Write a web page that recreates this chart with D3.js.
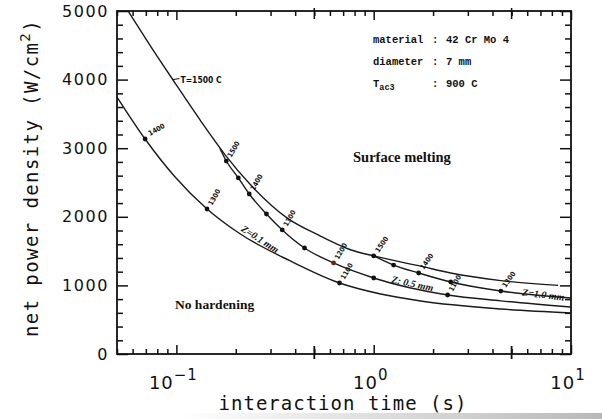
<!DOCTYPE html>
<html>
<head>
<meta charset="utf-8">
<script src="https://cdn.jsdelivr.net/npm/d3@7"></script>
<style>
  body { margin: 0; background: #fff; }
  svg text { fill: #111; }
</style>
</head>
<body>
<div id="chart"></div>
<script>
const width = 602;
const height = 419;

// tick values
const yTicks = [0, 1000, 2000, 3000, 4000, 5000];
const xTicks = [0.1, 1, 10];
const xTickExp = ["\u22121", "0", "1"];

// T = 1500 C (melting limit)
const meltTime  = [0.0569, 0.0735, 0.0985, 0.132, 0.177, 0.237, 0.365, 0.537, 0.763, 1.0, 1.73, 2.457, 4.41, 8.6];
const meltPower = [5000, 4500, 3950, 3410, 2900, 2470, 1980, 1720, 1520, 1430, 1280, 1180, 1070, 1000];

// Z = 1.0 mm
const z10Time  = [1.0, 1.261, 1.69, 2.457, 4.41, 10];
const z10Power = [1430, 1297, 1181, 1050, 918, 816];

// Z = 0.5 mm
const z05Time  = [0.166, 0.179, 0.206, 0.234, 0.286, 0.344, 0.446, 0.626, 1.0, 2.37, 4.41, 10];
const z05Power = [3000, 2813, 2566, 2332, 2041, 1808, 1545, 1327, 1108, 860, 775, 685];

// Z = 0.1 mm
const z01Time  = [0.05, 0.0694, 0.0985, 0.143, 0.211, 0.378, 0.671, 1.084, 1.73, 4.41, 10];
const z01Power = [3746, 3134, 2580, 2114, 1749, 1356, 1035, 875, 773, 656, 598];

// marked points (surface temperature)
const z10DotTime  = [1.0, 1.261, 1.69, 2.457, 4.41];
const z10DotPower = [1430, 1297, 1181, 1050, 918];
const z10DotLabel = ["1500", "", "1400", "", "1300"];

const z05DotTime  = [0.179, 0.206, 0.234, 0.286, 0.344, 0.446, 0.626, 1.0, 2.37];
const z05DotPower = [2813, 2566, 2332, 2041, 1808, 1545, 1327, 1108, 860];
const z05DotLabel = ["1500", "", "1400", "", "1300", "", "1200", "", "1100"];

const z01DotTime  = [0.0694, 0.143, 0.671];
const z01DotPower = [3134, 2114, 1035];
const z01DotLabel = ["1400", "1300", "1100"];

const margin = {left: 117, right: 31, top: 11, bottom: 65};

const svg = d3.select("#chart")
  .append("svg")
  .attr("width", width)
  .attr("height", height);

const x = d3.scaleLog()
  .domain([0.05, 10])
  .range([margin.left, width - margin.right]);

const y = d3.scaleLinear()
  .domain([0, 5000])
  .range([height - margin.bottom, margin.top]);

// scan shading at the bottom edge
const grad = svg.append("defs").append("linearGradient")
  .attr("id", "scan").attr("x1", "0").attr("x2", "1");
grad.append("stop").attr("offset", "0.3").attr("stop-color", "#fff");
grad.append("stop").attr("offset", "1").attr("stop-color", "#b8b8b8");
svg.append("rect")
  .attr("x", 0).attr("y", 413).attr("width", width).attr("height", 6)
  .attr("fill", "url(#scan)");

const minorY = d3.range(0, 5001, 200).filter(v => v % 1000 !== 0);
const minorX = x.ticks().filter(v => !xTicks.includes(v));
const crossX = [0.5, 5];

function styleAxis(g) {
  g.select(".domain").remove();
  g.selectAll(".tick line").attr("stroke", "#111").attr("stroke-width", 1.5);
}

// left axis
svg.append("g")
  .attr("transform", `translate(${margin.left},0)`)
  .call(d3.axisLeft(y).tickValues(minorY).tickSize(-6).tickFormat(""))
  .call(styleAxis);

svg.append("g")
  .attr("transform", `translate(${margin.left},0)`)
  .call(d3.axisLeft(y).tickValues(yTicks).tickSize(-11).tickPadding(9).tickFormat(d3.format("d")))
  .call(styleAxis)
  .call(g => g.selectAll("text")
    .attr("x", -8)
    .style("font-family", "DejaVu Sans, sans-serif")
    .style("font-size", "16px")
    .style("letter-spacing", "1.6px"));

// right axis
svg.append("g")
  .attr("transform", `translate(${width - margin.right},0)`)
  .call(d3.axisRight(y).tickValues(minorY).tickSize(-6).tickFormat(""))
  .call(styleAxis);
svg.append("g")
  .attr("transform", `translate(${width - margin.right},0)`)
  .call(d3.axisRight(y).tickValues(yTicks).tickSize(-11).tickFormat(""))
  .call(styleAxis);

// bottom axis
svg.append("g")
  .attr("transform", `translate(0,${height - margin.bottom})`)
  .call(d3.axisBottom(x).tickValues(minorX).tickSize(-5).tickFormat(""))
  .call(styleAxis);
svg.append("g")
  .attr("transform", `translate(0,${height - margin.bottom})`)
  .call(d3.axisBottom(x).tickValues(xTicks).tickSize(-9).tickFormat(""))
  .call(styleAxis);

// top axis
svg.append("g")
  .attr("transform", `translate(0,${margin.top})`)
  .call(d3.axisTop(x).tickValues(minorX).tickSize(-5).tickFormat(""))
  .call(styleAxis);
svg.append("g")
  .attr("transform", `translate(0,${margin.top})`)
  .call(d3.axisTop(x).tickValues(xTicks).tickSize(-9).tickFormat(""))
  .call(styleAxis);

// longer ticks crossing the axis at 0.5 and 5
svg.append("g").selectAll("line")
  .data(crossX)
  .join("line")
  .attr("x1", d => x(d)).attr("x2", d => x(d))
  .attr("y1", y(0) - 8).attr("y2", y(0) + 5)
  .attr("stroke", "#111").attr("stroke-width", 1.8);
svg.append("g").selectAll("line")
  .data(crossX)
  .join("line")
  .attr("x1", d => x(d)).attr("x2", d => x(d))
  .attr("y1", y(5000) - 3).attr("y2", y(5000) + 8)
  .attr("stroke", "#111").attr("stroke-width", 1.5);

// frame
svg.append("rect")
  .attr("x", x(0.05)).attr("y", y(5000))
  .attr("width", x(10) - x(0.05)).attr("height", y(0) - y(5000))
  .attr("fill", "none").attr("stroke", "#111").attr("stroke-width", 1.8);

// x tick labels 10^n
const xl = svg.append("g").selectAll("text")
  .data(xTicks)
  .join("text")
  .attr("x", d => x(d) - 3)
  .attr("y", y(0) + 35)
  .attr("text-anchor", "middle")
  .style("font-family", "DejaVu Sans, sans-serif")
  .style("font-size", "18px")
  .style("letter-spacing", "1px");
xl.append("tspan").text("10");
xl.append("tspan")
  .attr("dy", -9)
  .style("font-size", "15px")
  .text((d, i) => xTickExp[i]);

// axis titles
svg.append("text")
  .attr("x", 343).attr("y", 410)
  .attr("text-anchor", "middle")
  .style("font-family", "DejaVu Sans Mono, monospace")
  .style("font-size", "19px")
  .style("letter-spacing", "1px")
  .text("interaction time  (s)");

const yt = svg.append("text")
  .attr("transform", "translate(38,178) rotate(-90)")
  .attr("text-anchor", "middle")
  .style("font-family", "DejaVu Sans Mono, monospace")
  .style("font-size", "19px")
  .style("letter-spacing", "1.4px");
yt.append("tspan").text("net power density  (W/cm");
yt.append("tspan").attr("dy", -8).style("font-size", "14px").text("2");
yt.append("tspan").attr("dy", 8).text(")");

// curves
const line = d3.line()
  .x(d => x(d[0]))
  .y(d => y(d[1]))
  .curve(d3.curveMonotoneX);

const curves = [
  d3.zip(meltTime, meltPower),
  d3.zip(z10Time, z10Power),
  d3.zip(z05Time, z05Power),
  d3.zip(z01Time, z01Power)
];

svg.append("g").selectAll("path")
  .data(curves)
  .join("path")
  .attr("d", line)
  .attr("fill", "none")
  .attr("stroke", "#1a1a1a")
  .attr("stroke-width", 1.4);

// marked points with temperature labels
const dots = [
  ...d3.zip(z10DotTime, z10DotPower, z10DotLabel).map(d => ({t: d[0], p: d[1], lab: d[2], rot: -55})),
  ...d3.zip(z05DotTime, z05DotPower, z05DotLabel).map(d => ({t: d[0], p: d[1], lab: d[2], rot: -60})),
  ...d3.zip(z01DotTime, z01DotPower, z01DotLabel).map((d, i) => ({t: d[0], p: d[1], lab: d[2], rot: i === 0 ? -30 : -60}))
];

svg.append("g").selectAll("circle")
  .data(dots)
  .join("circle")
  .attr("cx", d => x(d.t))
  .attr("cy", d => y(d.p))
  .attr("r", 2.4)
  .attr("fill", d => d.t === 0.626 ? "#6b2416" : "#111");

svg.append("g").selectAll("text")
  .data(dots.filter(d => d.lab !== ""))
  .join("text")
  .attr("transform", d => `translate(${x(d.t) + 5},${y(d.p) - 3}) rotate(${d.rot})`)
  .style("font-family", "DejaVu Sans Condensed, DejaVu Sans, sans-serif")
  .style("font-size", "7px")
  .style("font-weight", "bold")
  .text(d => d.lab);

// T = 1500 C label with leader
svg.append("line")
  .attr("x1", x(0.0955)).attr("y1", y(4000))
  .attr("x2", x(0.0955) + 7).attr("y2", y(4000) - 1)
  .attr("stroke", "#111").attr("stroke-width", 1);
svg.append("text")
  .attr("x", x(0.0955) + 8).attr("y", y(4000) + 3)
  .style("font-family", "DejaVu Sans Condensed, DejaVu Sans, sans-serif")
  .style("font-size", "8.5px")
  .style("font-weight", "bold")
  .text("T=1500 C");

// curve names
const curveNames = [
  {t: 0.26, p: 1633, rot: 33, lab: "Z=0.1 mm"},
  {t: 1.56, p: 977, rot: 12, lab: "Z: 0.5 mm"},
  {t: 7.2, p: 816, rot: 7, lab: "Z=1.0 mm"}
];
svg.append("g").selectAll("text")
  .data(curveNames)
  .join("text")
  .attr("transform", d => `translate(${x(d.t)},${y(d.p)}) rotate(${d.rot})`)
  .attr("text-anchor", "middle")
  .style("font-family", "Liberation Serif, serif")
  .style("font-size", "10px")
  .style("font-weight", "bold")
  .style("font-style", "italic")
  .text(d => d.lab);

// regions
svg.append("text")
  .attr("x", 353).attr("y", 162)
  .style("font-family", "Liberation Serif, serif")
  .style("font-size", "14.5px")
  .style("font-weight", "bold")
  .text("Surface melting");
svg.append("text")
  .attr("x", 175).attr("y", 309)
  .style("font-family", "Liberation Serif, serif")
  .style("font-size", "13.5px")
  .style("font-weight", "bold")
  .text("No hardening");

// material info
const infoLabel = ["material", "diameter", "T"];
const infoValue = ["42 Cr Mo 4", "7 mm", "900 C"];
const infoY = [43, 65, 87];

const info = svg.append("g")
  .style("font-family", "Liberation Mono, monospace")
  .style("font-size", "10.5px")
  .style("font-weight", "bold");
infoLabel.forEach((lab, i) => {
  const t = info.append("text").attr("x", 373).attr("y", infoY[i]).text(lab);
  if (lab === "T") {
    t.append("tspan").attr("dy", 3).style("font-size", "8.5px").text("ac3");
  }
  info.append("text").attr("x", 432).attr("y", infoY[i]).text(":");
  info.append("text").attr("x", 446).attr("y", infoY[i]).text(infoValue[i]);
});
</script>
</body>
</html>
